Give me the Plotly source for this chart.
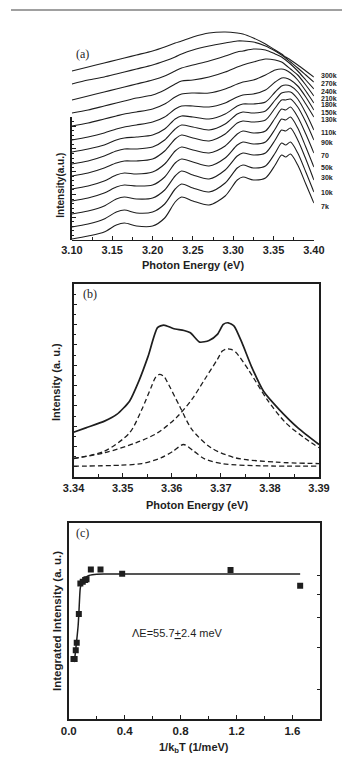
import plotly.graph_objects as go

W, H = 353, 762
INK = "#1e1e1e"
SANS = "Liberation Sans, Arial, sans-serif"
SERIF = "Liberation Serif, Times New Roman, serif"

# ---------------- Panel (a): temperature dependent PL spectra (stacked) -------------
# vertical position of each stacked spectrum (arbitrary units, larger = lower on the plot)
energy_a = [3.100, 3.120, 3.140, 3.155, 3.165, 3.180, 3.200, 3.215, 3.228, 3.236, 3.250, 3.270,
            3.290, 3.305, 3.312, 3.325, 3.340, 3.352, 3.360, 3.365, 3.371, 3.380, 3.390, 3.400]
temps_a = ["300k", "270k", "240k", "210k", "180k", "150k", "130k", "110k", "90k", "70", "50k", "30k", "10k", "7k"]

pl_300k = [71, 67, 63, 60, 58, 55, 51, 47, 43, 41, 37, 33, 32, 33, 34, 38, 44, 50, 54, 57, 60, 65, 71, 77]
pl_270k = [84, 80, 77, 74, 72, 69, 65, 61, 57, 54, 50, 46, 43, 41, 41, 42, 46, 51, 55, 58, 62, 68, 75, 82]
pl_240k = [100, 96, 92, 89, 87, 84, 80, 76, 71, 68, 65, 61, 56, 52, 51, 49, 50, 54, 57, 60, 64, 71, 80, 89]
pl_210k = [113, 110, 106, 103, 101, 98, 95, 90, 84, 81, 80, 77, 72, 67, 65, 62, 59, 60, 62, 65, 69, 75, 85, 96]
pl_180k = [126, 123, 119, 116, 114, 112, 109, 104, 97, 94, 93, 93, 89, 84, 82, 80, 75, 70, 69, 70, 73, 80, 91, 103]
pl_150k = [140, 137, 133, 129, 127, 125, 122, 117, 109, 106, 106, 107, 103, 97, 95, 94, 90, 82, 78, 78, 80, 86, 97, 110]
pl_130k = [152, 149, 145, 140, 138, 137, 135, 129, 119, 116, 117, 119, 114, 106, 104, 104, 102, 92, 86, 85, 86, 92, 104, 117]
pl_110k = [164, 161, 156, 151, 149, 149, 147, 140, 129, 125, 127, 130, 124, 114, 112, 113, 111, 100, 93, 92, 92, 99, 113, 130]
pl_90k = [176, 173, 168, 163, 161, 161, 159, 151, 139, 135, 138, 141, 134, 123, 121, 122, 120, 108, 100, 100, 99, 107, 122, 140]
pl_70k = [189, 186, 181, 175, 173, 174, 172, 164, 151, 147, 150, 153, 146, 134, 131, 133, 131, 118, 109, 110, 107, 117, 134, 153]
pl_50k = [201, 198, 193, 187, 185, 186, 185, 177, 163, 159, 162, 166, 158, 145, 142, 144, 142, 129, 119, 120, 117, 128, 147, 167]
pl_30k = [214, 211, 206, 199, 197, 199, 198, 190, 176, 171, 175, 179, 170, 156, 153, 155, 153, 140, 130, 131, 128, 140, 159, 180]
pl_10k = [227, 224, 219, 212, 210, 213, 212, 204, 189, 184, 188, 192, 183, 168, 165, 168, 166, 153, 143, 145, 142, 153, 172, 192]
pl_7k = [239, 236, 232, 225, 223, 226, 226, 218, 202, 197, 201, 205, 196, 180, 177, 180, 178, 165, 155, 157, 154, 165, 184, 203]

series_a = [pl_300k, pl_270k, pl_240k, pl_210k, pl_180k, pl_150k, pl_130k,
            pl_110k, pl_90k, pl_70k, pl_50k, pl_30k, pl_10k, pl_7k]

# ---------------- Panel (b): 7 K spectrum and Lorentzian components ----------------
b_energy = [3.3400, 3.3425, 3.3463, 3.3488, 3.3514, 3.3533, 3.3552, 3.3571, 3.3584, 3.3603, 3.3625, 3.3638,
            3.3657, 3.3676, 3.3693, 3.3705, 3.3715, 3.3727, 3.3743, 3.3762, 3.3787, 3.3819, 3.3857, 3.3900]
b_total = [1.70, 1.92, 2.25, 2.58, 3.23, 4.22, 5.45, 6.85, 6.98, 6.81, 6.71, 6.60,
           6.14, 6.22, 6.52, 7.01, 7.09, 6.93, 6.11, 4.96, 3.72, 2.82, 1.92, 1.10]

b1_energy = [3.3400, 3.3463, 3.3514, 3.3539, 3.3559, 3.3567, 3.3575, 3.3584, 3.3590, 3.3616, 3.3641,
             3.3680, 3.3730, 3.3813, 3.3900]
b1_int = [0.41, 0.77, 1.67, 2.82, 3.97, 4.40, 4.55, 4.45, 4.22, 2.99, 1.84, 0.94, 0.44, 0.23, 0.16]

b2_energy = [3.3400, 3.3463, 3.3527, 3.3571, 3.3609, 3.3641, 3.3667, 3.3693, 3.3703, 3.3712, 3.3721,
             3.3730, 3.3756, 3.3794, 3.3832, 3.3870, 3.3900]
b2_int = [0.41, 0.69, 1.18, 1.67, 2.41, 3.32, 4.30, 5.29, 5.70, 5.81, 5.78, 5.65, 4.79, 3.32, 2.17, 1.43, 0.94]

b3_energy = [3.3400, 3.3495, 3.3539, 3.3578, 3.3603, 3.3624, 3.3645, 3.3667, 3.3705, 3.3782, 3.3900]
b3_int = [0.03, 0.08, 0.16, 0.44, 0.77, 1.10, 0.77, 0.39, 0.15, 0.05, 0.04]

# ---------------- Panel (c): integrated intensity vs 1/kbT ----------------
c_invkt = [0.034, 0.042, 0.050, 0.057, 0.072, 0.083, 0.100, 0.117, 0.127, 0.158, 0.227, 0.382, 1.157, 1.655]
c_int = [2.68, 2.68, 2.92, 3.14, 4.14, 5.57, 5.66, 5.76, 5.80, 6.38, 6.38, 6.12, 6.34, 5.45]
fit_invkt = [0.040, 0.050, 0.057, 0.067, 0.072, 0.078, 0.083, 0.095, 0.110, 0.123, 0.145, 0.168,
             0.200, 0.258, 0.600, 1.000, 1.655]
fit_int = [2.60, 2.95, 3.22, 3.70, 4.14, 4.90, 5.35, 5.62, 5.82, 5.92, 6.02, 6.06, 6.09, 6.10, 6.10, 6.10, 6.10]

fig = go.Figure()

# partial left axis of panel (a) (drawn first so it sits underneath)
fig.add_trace(go.Scatter(x=[None], y=[None], xaxis="x4", yaxis="y4", showlegend=False, hoverinfo="skip"))

for vals in series_a:
    fig.add_trace(go.Scatter(x=energy_a, y=vals, mode="lines", xaxis="x", yaxis="y",
                             line=dict(color=INK, width=1.1, shape="spline", smoothing=0.8),
                             showlegend=False, hoverinfo="skip"))

fig.add_trace(go.Scatter(x=b_energy, y=b_total, mode="lines", xaxis="x2", yaxis="y2",
                         line=dict(color=INK, width=1.7, shape="spline", smoothing=0.6),
                         showlegend=False, hoverinfo="skip"))
for ex, iy in [(b1_energy, b1_int), (b2_energy, b2_int), (b3_energy, b3_int)]:
    fig.add_trace(go.Scatter(x=ex, y=iy, mode="lines", xaxis="x2", yaxis="y2",
                             line=dict(color=INK, width=1.3, dash="5px,3px", shape="spline", smoothing=0.8),
                             showlegend=False, hoverinfo="skip"))

fig.add_trace(go.Scatter(x=fit_invkt, y=fit_int, mode="lines", xaxis="x3", yaxis="y3",
                         line=dict(color=INK, width=1.5, shape="spline", smoothing=0.7),
                         showlegend=False, hoverinfo="skip"))
fig.add_trace(go.Scatter(x=c_invkt, y=c_int, mode="markers", xaxis="x3", yaxis="y3",
                         marker=dict(symbol="square", size=6, color=INK),
                         showlegend=False, hoverinfo="skip"))


def px_x(p):
    return p / W


def px_y(p):
    return 1 - p / H


tickfont_b = dict(family=SANS, size=11, color=INK, weight="bold")
common = dict(showgrid=False, zeroline=False, color=INK)

fig.update_layout(
    width=W, height=H, autosize=False,
    margin=dict(l=0, r=0, t=0, b=0),
    paper_bgcolor="white", plot_bgcolor="rgba(0,0,0,0)",
    xaxis=dict(domain=[px_x(65), px_x(323)], anchor="y", range=[3.10, 3.40],
               showline=True, linewidth=1.2, linecolor=INK, ticks="inside", ticklen=4, tickcolor=INK,
               tick0=3.10, dtick=0.05, tickformat=".2f",
               minor=dict(dtick=0.025, ticks="inside", ticklen=3, tickcolor=INK),
               tickfont=tickfont_b, **common),
    yaxis=dict(domain=[px_y(240), px_y(20)], anchor="x", range=[240, 20], visible=False, **common),
    xaxis4=dict(domain=[px_x(65), px_x(323)], anchor="y4", range=[0, 1], visible=False, **common),
    yaxis4=dict(domain=[px_y(240), px_y(117)], anchor="x4", range=[0, 27],
                showline=True, linewidth=1.5, linecolor=INK, ticks="inside", ticklen=4, tickcolor=INK,
                dtick=5, showticklabels=False,
                minor=dict(dtick=1, ticks="inside", ticklen=2.5, tickcolor=INK), **common),
    xaxis2=dict(domain=[px_x(66.7), px_x(328.5)], anchor="y2", range=[3.34, 3.39],
                showline=True, mirror=True, linewidth=1.5, linecolor=INK, ticks="inside", ticklen=4,
                tickcolor=INK, dtick=0.01, tickformat=".2f",
                minor=dict(dtick=0.005, ticks="inside", ticklen=3, tickcolor=INK),
                tickfont=dict(family=SANS, size=11, color=INK, weight="bold"), **common),
    yaxis2=dict(domain=[px_y(477), px_y(284)], anchor="x2", range=[-0.5, 9.0],
                showline=True, mirror=True, linewidth=1.5, linecolor=INK, ticks="inside", ticklen=4,
                tickcolor=INK, dtick=1, showticklabels=False,
                minor=dict(dtick=0.5, ticks="inside", ticklen=2.5, tickcolor=INK), **common),
    xaxis3=dict(domain=[px_x(61.6), px_x(330)], anchor="y3", range=[0, 1.8],
                showline=True, mirror=True, linewidth=1.5, linecolor=INK, ticks="inside", ticklen=4,
                tickcolor=INK, dtick=0.4, tickformat=".1f",
                minor=dict(dtick=0.2, ticks="inside", ticklen=3, tickcolor=INK),
                tickfont=dict(family=SANS, size=11.5, color=INK, weight="bold"), **common),
    yaxis3=dict(domain=[px_y(719), px_y(523)], anchor="x3", type="log", range=[0.176, 1.0],
                side="right", showline=True, mirror=True, linewidth=1.5, linecolor=INK,
                ticks="inside", ticklen=4, tickcolor=INK, tickvals=[2, 3, 4, 5, 6],
                showticklabels=False, **common),
)

annotations = []


def txt(text, x, y, size, family=SANS, bold=True, angle=0, xanchor="center"):
    annotations.append(dict(text=text, x=px_x(x), y=px_y(y), xref="paper", yref="paper",
                            showarrow=False, xanchor=xanchor, yanchor="middle", textangle=angle,
                            font=dict(family=family, size=size, color=INK,
                                      weight="bold" if bold else "normal")))


# panel (a) texts
txt("Photon Energy (eV)", 194, 265, 11)
txt("Intensity(a.u.)", 53, 185, 10, angle=-90)
txt("(a)", 67, 54, 12, family=SERIF, bold=False, xanchor="left")
label_y_a = [75.7, 83, 91, 98, 105, 112, 119.5, 132, 142, 156, 167, 178, 193, 206]
for lab, yy in zip(temps_a, label_y_a):
    txt(lab, 328, yy, 7, xanchor="left")

# panel (b) texts
txt("Photon Energy (eV)", 198, 505, 11)
txt("Intensity (a. u.)", 48, 382, 11, angle=-90)
txt("(b)", 75, 294, 12, family=SERIF, bold=False, xanchor="left")

# panel (c) texts
txt("1/k<sub>b</sub>T (1/meV)", 195, 748, 11)
txt("Integrated Intensity (a. u.)", 49, 621, 11.5, angle=-90)
txt("(c)", 67, 533, 12, family=SERIF, bold=False, xanchor="left")
txt("ΛE=55.7<u>+</u>2.4 meV", 178, 633, 11, bold=False)

fig.update_layout(annotations=annotations)

fig.add_shape(type="line", xref="paper", yref="paper", x0=0, x1=1, y0=px_y(10), y1=px_y(10),
              line=dict(color="#a0a0a0", width=2))

fig.write_html("out.html")
